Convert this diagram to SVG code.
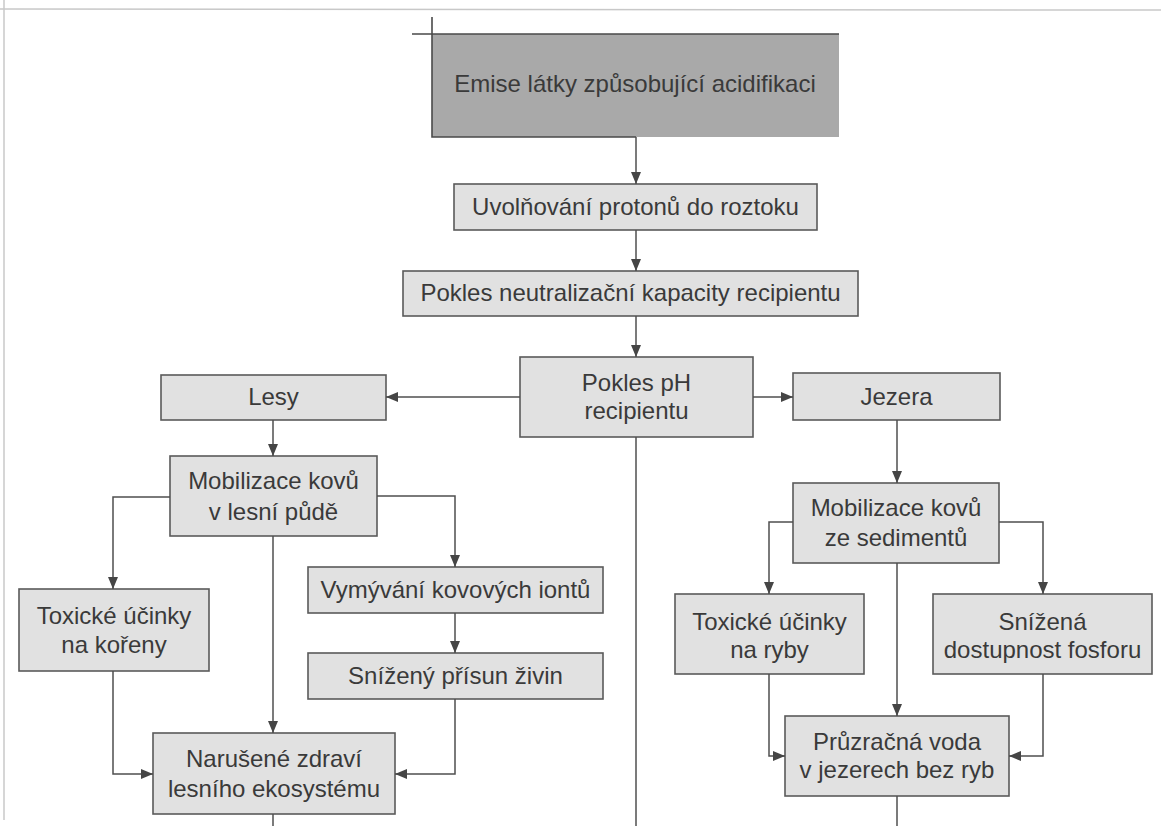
<svg xmlns="http://www.w3.org/2000/svg" width="1161" height="826" viewBox="0 0 1161 826">
<defs>
<marker id="ah" viewBox="0 0 12 10" refX="12" refY="5" markerWidth="12" markerHeight="10" markerUnits="userSpaceOnUse" orient="auto">
<path d="M0,0 L12,5 L0,10 z" fill="#454545"/>
</marker>
<style>
.box{fill:#e1e1e1;stroke:#5a5a5a;stroke-width:1.6}
.t{font-family:"Liberation Sans",Arial,sans-serif;font-size:24px;fill:#3a3a3a;text-anchor:middle}
.c{fill:none;stroke:#4f4f4f;stroke-width:1.5}
.a{marker-end:url(#ah)}
.scan{stroke:#c8c8c8;stroke-width:1.5;fill:none}
</style>
</defs>
<rect width="1161" height="826" fill="#ffffff"/>
<path class="scan" d="M0,9 L1161,10"/>
<path class="scan" d="M4,0 L4,820"/>

<g id="emise">
<rect x="432" y="34" width="407" height="103" fill="#a9a9a9"/>
<path d="M412,34 L839,34 M432,17 L432,137 L636,137" fill="none" stroke="#4a4a4a" stroke-width="1.6"/>
<text class="t" x="635" y="92">Emise látky způsobující acidifikaci</text>
</g>
<g id="uvolnovani">
<rect class="box" x="454" y="184" width="363" height="46"/>
<text class="t" x="635.5" y="215">Uvolňování protonů do roztoku</text>
</g>
<g id="pokles-neutralizacni">
<rect class="box" x="403" y="271" width="455" height="45"/>
<text class="t" x="630.5" y="301">Pokles neutralizační kapacity recipientu</text>
</g>
<g id="pokles-ph">
<rect class="box" x="520" y="357" width="233" height="80"/>
<text class="t" x="636.5" y="391">Pokles pH</text>
<text class="t" x="636.5" y="419">recipientu</text>
</g>
<g id="lesy">
<rect class="box" x="161" y="375" width="225" height="45"/>
<text class="t" x="273.5" y="405">Lesy</text>
</g>
<g id="jezera">
<rect class="box" x="793" y="373" width="207" height="47"/>
<text class="t" x="896.5" y="405">Jezera</text>
</g>
<g id="mobilizace-puda">
<rect class="box" x="170" y="456" width="207" height="80"/>
<text class="t" x="273.5" y="489">Mobilizace kovů</text>
<text class="t" x="273.5" y="520">v lesní půdě</text>
</g>
<g id="toxicke-koreny">
<rect class="box" x="19" y="589" width="190" height="82"/>
<text class="t" x="114" y="624">Toxické účinky</text>
<text class="t" x="114" y="653">na kořeny</text>
</g>
<g id="vymyvani">
<rect class="box" x="308" y="567" width="295" height="46"/>
<text class="t" x="455.5" y="598">Vymývání kovových iontů</text>
</g>
<g id="snizeny-prisun">
<rect class="box" x="308" y="653" width="295" height="46"/>
<text class="t" x="455.5" y="684">Snížený přísun živin</text>
</g>
<g id="naruseni">
<rect class="box" x="153" y="733" width="242" height="81"/>
<text class="t" x="274" y="767">Narušené zdraví</text>
<text class="t" x="274" y="797">lesního ekosystému</text>
</g>
<g id="mobilizace-sedimenty">
<rect class="box" x="793" y="483" width="206" height="80"/>
<text class="t" x="896" y="516">Mobilizace kovů</text>
<text class="t" x="896" y="546">ze sedimentů</text>
</g>
<g id="toxicke-ryby">
<rect class="box" x="675" y="594" width="189" height="80"/>
<text class="t" x="769.5" y="630">Toxické účinky</text>
<text class="t" x="769.5" y="658">na ryby</text>
</g>
<g id="snizena-fosfor">
<rect class="box" x="933" y="594" width="219" height="80"/>
<text class="t" x="1042.5" y="630">Snížená</text>
<text class="t" x="1042.5" y="658">dostupnost fosforu</text>
</g>
<g id="pruzracna">
<rect class="box" x="785" y="716" width="224" height="80"/>
<text class="t" x="897" y="750">Průzračná voda</text>
<text class="t" x="897" y="778">v jezerech bez ryb</text>
</g>

<g id="connectors">
<path class="c a" d="M636,137 L636,184"/>
<path class="c a" d="M636,230 L636,271"/>
<path class="c a" d="M636,316 L636,357"/>
<path class="c a" d="M520,397 L386,397"/>
<path class="c a" d="M753,397 L793,397"/>
<path class="c a" d="M273,420 L273,456"/>
<path class="c a" d="M897,420 L897,483"/>
<path class="c a" d="M170,497 L113,497 L113,589"/>
<path class="c a" d="M377,496 L455,496 L455,567"/>
<path class="c a" d="M273,536 L273,733"/>
<path class="c a" d="M455,613 L455,653"/>
<path class="c a" d="M455,699 L455,774 L395,774"/>
<path class="c a" d="M113,671 L113,774 L153,774"/>
<path class="c" d="M273,814 L273,826"/>
<path class="c" d="M636,437 L636,826"/>
<path class="c a" d="M793,522 L769,522 L769,594"/>
<path class="c a" d="M999,522 L1043,522 L1043,594"/>
<path class="c a" d="M897,563 L897,716"/>
<path class="c a" d="M769,674 L769,756 L785,756"/>
<path class="c a" d="M1043,674 L1043,756 L1009,756"/>
<path class="c" d="M897,796 L897,826"/>
</g>
</svg>
